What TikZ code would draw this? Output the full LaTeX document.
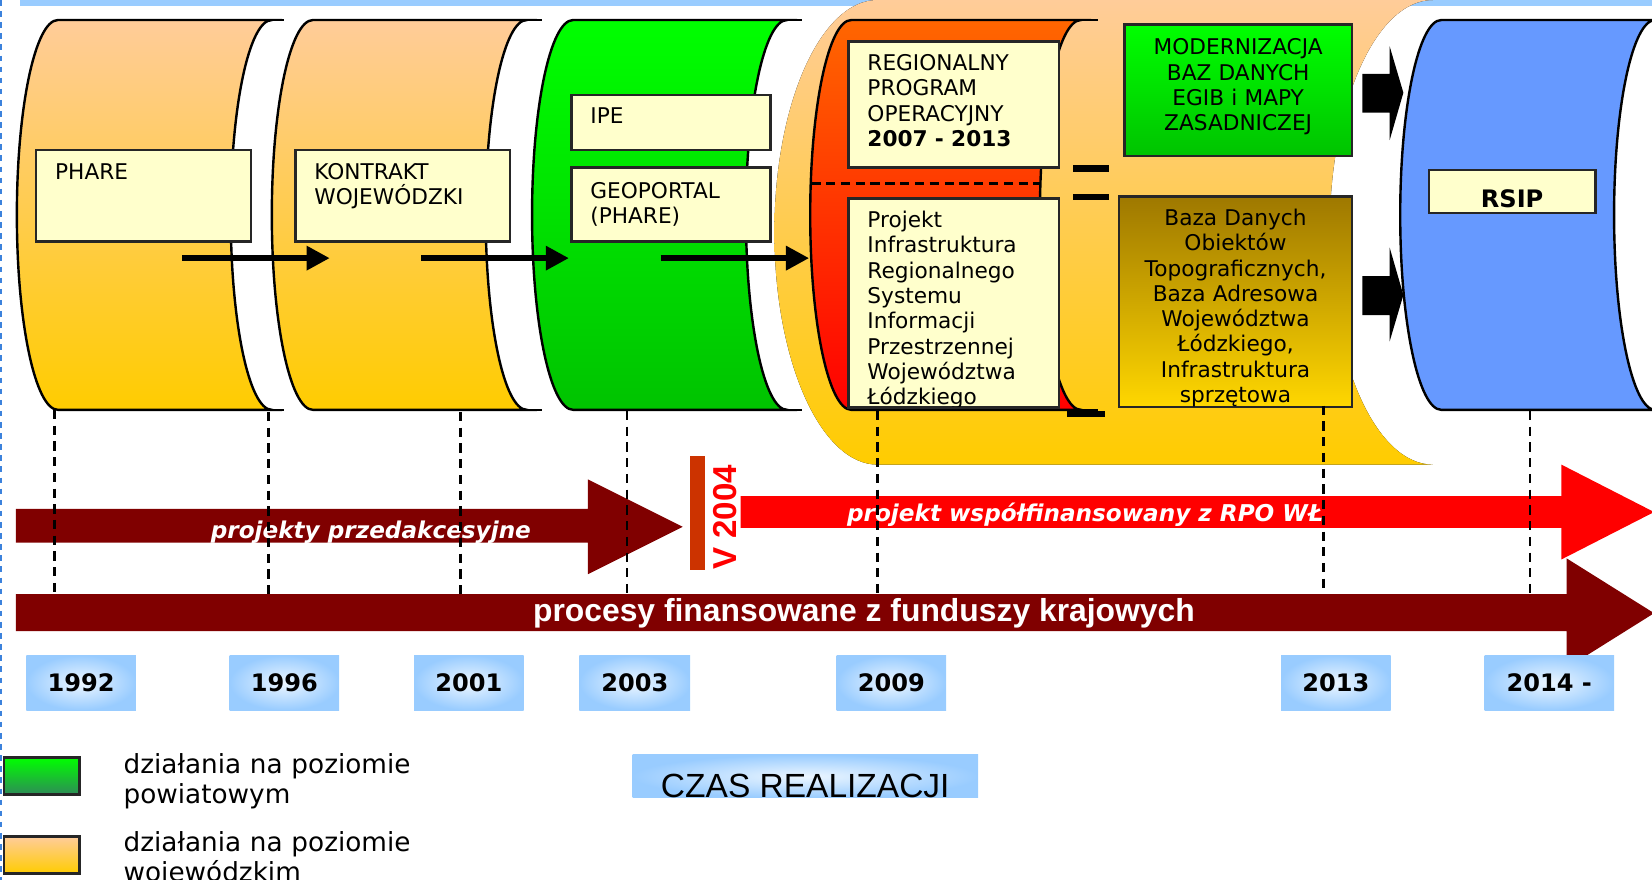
\documentclass[tikz,border=0pt]{standalone}
\usepackage{fontspec}
\setmainfont{DejaVu Sans}
\newfontfamily\arialfont{Liberation Sans}
\usetikzlibrary{arrows.meta}

\definecolor{peach}{RGB}{255,204,153}
\definecolor{gold}{RGB}{255,204,0}
\definecolor{lightyellow}{RGB}{255,255,204}
\definecolor{skyblue}{RGB}{153,204,255}
\definecolor{paleblue}{RGB}{236,246,255}
\definecolor{cornflower}{RGB}{102,153,255}
\definecolor{maroon}{RGB}{128,0,0}
\definecolor{brick}{RGB}{204,51,0}
\definecolor{limegreen}{RGB}{0,255,0}
\definecolor{darkgreen}{RGB}{0,195,0}
\definecolor{seagreen}{RGB}{46,139,87}
\definecolor{orangered}{RGB}{255,102,0}
\definecolor{olivebrown}{RGB}{158,120,0}
\definecolor{brightgold}{RGB}{255,215,0}
\definecolor{framecol}{RGB}{60,130,220}

\tikzset{
  can/.style={draw=black, line width=1.3pt},
  infobox/.style={draw=black!85, line width=1.4pt, fill=lightyellow, inner sep=0pt, anchor=north west},
  boxtext/.style={inner sep=0pt, align=left, text width=5cm, font=\fontsize{11.7}{13.66}\selectfont},
  midtext/.style={inner sep=0pt, align=center, font=\fontsize{11.7}{13.66}\selectfont},
  yearbox/.style={inner color=paleblue, outer color=skyblue, minimum width=2.08cm, minimum height=1.04cm, inner sep=0pt, font=\bfseries\fontsize{13}{15}\selectfont},
  banner/.style={text=white, inner sep=0pt, font=\bfseries\itshape\fontsize{12.5}{15}\selectfont},
  timeline/.style={line width=1.4pt, dash pattern=on 5pt off 3.5pt},
  stepline/.style={line width=3.4pt, -{Triangle[length=0.44cm, width=0.44cm]}},
  legendbox/.style={draw=black!85, line width=1.4pt, anchor=north west, minimum width=1.43cm, minimum height=0.7cm, inner sep=0pt},
  legendtext/.style={inner sep=0pt, align=left, text width=7cm, font=\fontsize{14.2}{16.2}\selectfont}
}

\begin{document}
\begin{tikzpicture}[x=0.02cm, y=-0.02cm]

            \path[use as bounding box, clip] (0,0) rectangle (1568,835);

            % Frame on top and on the left
            \fill[skyblue] (19,0) rectangle (1568,6);
            \draw[framecol, dashed, line width=0.6pt] (1,0) -- (1,835);

            % Background can (regional level)
            \fill[top color=peach, bottom color=gold] (833,0) arc[start angle=270, end angle=90, x radius=98, y radius=220.5]
                -- (1360,441) arc[start angle=90, end angle=270, x radius=98, y radius=220.5] -- cycle;

            % First can (orange)
            \draw[can, top color=peach, bottom color=gold] (55,19) arc[start angle=270, end angle=90, x radius=39, y radius=185]
                -- (258,389) arc[start angle=90, end angle=270, x radius=39, y radius=185] -- cycle;
            \draw[can] (258,19) -- (270,19) (258,389) -- (270,389);

            % Second can (orange)
            \draw[can, top color=peach, bottom color=gold] (297,19) arc[start angle=270, end angle=90, x radius=39, y radius=185]
                -- (500,389) arc[start angle=90, end angle=270, x radius=39, y radius=185] -- cycle;
            \draw[can] (500,19) -- (514,19) (500,389) -- (514,389);

            % Third can (green)
            \draw[can, top color=limegreen, bottom color=darkgreen] (544,19) arc[start angle=270, end angle=90, x radius=39, y radius=185]
                -- (747,389) arc[start angle=90, end angle=270, x radius=39, y radius=185] -- cycle;
            \draw[can] (747,19) -- (761,19) (747,389) -- (761,389);

            % Fourth can (red)
            \draw[can, top color=orangered, bottom color=red] (808,19) arc[start angle=270, end angle=90, x radius=39, y radius=185]
                -- (1026,389) arc[start angle=90, end angle=270, x radius=39, y radius=185] -- cycle;
            \draw[can] (1026,19) -- (1042,19) (1026,389) -- (1042,389);
            \draw[line width=1.3pt, dash pattern=on 5pt off 3pt] (770,174) -- (988,174);

            % Last can (blue)
            \draw[can, fill=cornflower] (1368,19) arc[start angle=270, end angle=90, x radius=39, y radius=185]
                -- (1571,389) arc[start angle=90, end angle=270, x radius=39, y radius=185] -- cycle;

            % Boxes
            \node[infobox, minimum width=4.08cm, minimum height=1.74cm] (phare) at (33,141) {};
            \node[boxtext, anchor=base west] (phareT) at ([shift={(19,29)}]phare.north west) {PHARE};

            \node[infobox, minimum width=4.08cm, minimum height=1.74cm] (kontrakt) at (279,141) {};
            \node[boxtext, anchor=base west] (kontraktT) at ([shift={(19,29)}]kontrakt.north west) {KONTRAKT\\WOJEWÓDZKI};

            \node[infobox, minimum width=3.78cm, minimum height=1.04cm] (ipe) at (541,89) {};
            \node[boxtext, anchor=base west] (ipeT) at ([shift={(19,28)}]ipe.north west) {IPE};

            \node[infobox, minimum width=3.78cm, minimum height=1.4cm] (geoportal) at (541,158) {};
            \node[boxtext, anchor=base west] (geoportalT) at ([shift={(19,30)}]geoportal.north west) {GEOPORTAL\\(PHARE)};

            \node[infobox, minimum width=4cm, minimum height=2.4cm] (rpo) at (804,38) {};
            \node[boxtext, anchor=base west] (rpoT) at ([shift={(19,29)}]rpo.north west) {REGIONALNY\\PROGRAM\\OPERACYJNY\\\textbf{2007 - 2013}};

            \node[infobox, minimum width=4cm, minimum height=3.96cm] (projekt) at (804,187) {};
            \begin{scope}
              \clip ([shift={(0,-1)}]projekt.south west) rectangle (projekt.north east);
              \node[boxtext, anchor=base west] (projektT) at ([shift={(19,29)}]projekt.north west)
                {Projekt\\Infrastruktura\\Regionalnego\\Systemu\\Informacji\\Przestrzennej\\Województwa\\Łódzkiego};
            \end{scope}
            \draw[black!85, line width=1.4pt] (projekt.south west) -- (projekt.south east);

            \node[infobox, top color=limegreen, bottom color=darkgreen, minimum width=4.32cm, minimum height=2.5cm] (modern) at (1066,22) {};
            \node[midtext, anchor=base, text width=4.32cm] (modernT) at ([shift={(0,30)}]modern.north) {MODERNIZACJA\\BAZ DANYCH\\EGIB i MAPY\\ZASADNICZEJ};

            \node[infobox, top color=olivebrown, bottom color=brightgold, minimum width=4.42cm, minimum height=4cm] (baza) at (1061,185) {};
            \node[midtext, anchor=base, text width=4.42cm] (bazaT) at ([shift={(0,29)}]baza.north)
              {Baza Danych\\Obiektów\\Topograficznych,\\Baza Adresowa\\Województwa\\Łódzkiego,\\Infrastruktura\\sprzętowa};

            \node[infobox, minimum width=3.16cm, minimum height=0.82cm] (rsip) at (1355,160) {};
            \node[inner sep=0pt, anchor=base, font=\bfseries\fontsize{13}{15}\selectfont] (rsipT) at ([shift={(0,-6.5)}]rsip.south) {RSIP};

            % Bars between the red can and the boxes
            \fill[black] (1018,157) rectangle (1053,163);
            \fill[black] (1018,184) rectangle (1053,190);
            \fill[black] (1013,390) rectangle (1049,396);

            % Arrows between the cans
            \coordinate (s1) at (173,245);
            \coordinate (e1) at (313,245);
            \coordinate (s2) at (400,245);
            \coordinate (e2) at (540,245);
            \coordinate (s3) at (627,245);
            \coordinate (e3) at (768,245);
            \draw[stepline] (s1) -- (e1);
            \draw[stepline] (s2) -- (e2);
            \draw[stepline] (s3) -- (e3);

            % Block arrows into RSIP
            \fill[black] (1293,70) -- (1319,70) -- (1319,44) -- (1332,88) -- (1319,133) -- (1319,107) -- (1293,107) -- cycle;
            \fill[black] (1293,262) -- (1319,262) -- (1319,235) -- (1332,280) -- (1319,324) -- (1319,299) -- (1293,299) -- cycle;

            % Pre-accession arrow
            \fill[maroon] (15,483) -- (558,483) -- (558,455) -- (648,500) -- (558,545) -- (558,515) -- (15,515) -- cycle;
            \node[banner, anchor=base] (przedT) at (352,511) {projekty przedakcesyjne};

            % 2004 marker
            \fill[brick] (655,433) rectangle (669,541);
            \node[rotate=90, text=red, inner sep=0pt, font=\arialfont\bfseries\fontsize{17.9}{20}\selectfont] (v2004) at (688,491) {V 2004};

            % RPO arrow
            \fill[red] (703,471) -- (1482,471) -- (1482,441) -- (1570,486) -- (1482,531) -- (1482,501) -- (703,501) -- cycle;
            \node[banner, anchor=base] (rpoarrowT) at (1030,495) {projekt współfinansowany z RPO WŁ};

            % Time marks
            \draw[timeline] (52,389) -- (52,564);
            \draw[timeline] (255,391) -- (255,564);
            \draw[timeline] (437,391) -- (437,564);
            \draw[timeline] (595,390) -- (595,564);
            \draw[timeline] (833,390) -- (833,564);
            \draw[timeline] (1256,385) -- (1256,564);
            \draw[timeline] (1452,390) -- (1452,564);

            % National funds arrow
            \fill[maroon] (15,564) -- (1487,564) -- (1487,530) -- (1570,582) -- (1487,634) -- (1487,599) -- (15,599) -- cycle;
            \node[text=white, inner sep=0pt, anchor=base, font=\arialfont\bfseries\fontsize{17.2}{20}\selectfont] (procesyT) at (820,590) {procesy finansowane z funduszy krajowych};

            % Years
            \node[yearbox] (y1992) at (77,648) {1992};
            \node[yearbox] (y1996) at (270,648) {1996};
            \node[yearbox] (y2001) at (445,648) {2001};
            \node[yearbox, minimum width=2.1cm] (y2003) at (602.5,648) {2003};
            \node[yearbox] (y2009) at (846,648) {2009};
            \node[yearbox] (y2013) at (1268,648) {2013};
            \node[yearbox, minimum width=2.46cm] (y2014) at (1470.5,648) {2014 -};

            % Time label
            \node[inner color=paleblue, outer color=skyblue, anchor=north west, minimum width=6.56cm, minimum height=0.82cm, inner sep=0pt] (czas) at (600,716) {};
            \node[inner sep=0pt, anchor=base, font=\arialfont\fontsize{18.1}{21}\selectfont] (czasT) at ([shift={(0,-1)}]czas.south) {CZAS REALIZACJI};

            % Legend
            \node[legendbox, top color=limegreen, bottom color=seagreen] (legG) at (2.5,718) {};
            \node[legendtext, anchor=base west] (legGT) at (117,734) {działania na poziomie\\powiatowym};
            \node[legendbox, top color=peach, bottom color=gold] (legO) at (2.5,793) {};
            \node[legendtext, anchor=base west] (legOT) at (117,808) {działania na poziomie\\wojewódzkim};

\end{tikzpicture}
\end{document}
